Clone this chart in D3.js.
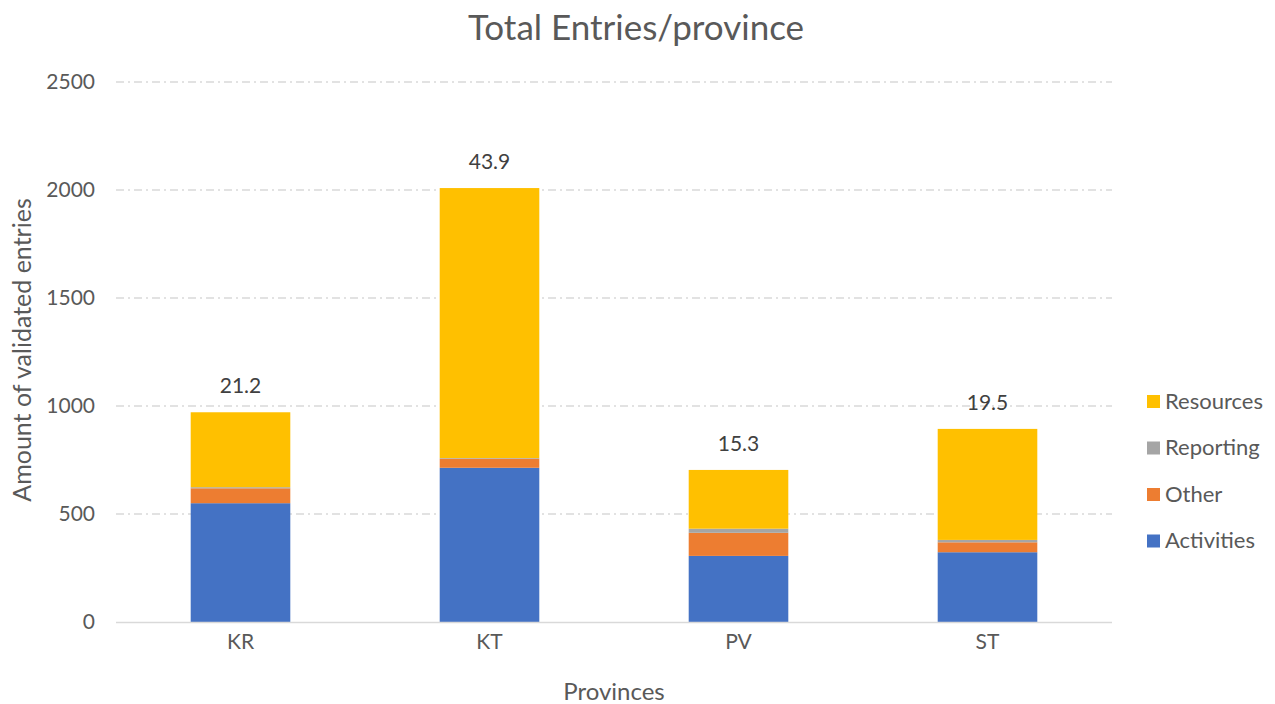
<!DOCTYPE html>
<meta charset="utf-8">
<style>
body { margin: 0; background: #fff; }
svg { font-family: Lato, "Noto Sans", sans-serif; }
.grid line { stroke: #d9d9d9; stroke-width: 1.3; stroke-dasharray: 8 4 2 4; }
.tick text { fill: #595959; font-size: 21px; font-family: Lato, "Noto Sans", sans-serif; }
</style>
<svg id="chart" width="1275" height="704"></svg>
<script src="https://cdnjs.cloudflare.com/ajax/libs/d3/7.8.5/d3.min.js"></script>
<script>
// data
var provinces = ["KR", "KT", "PV", "ST"];
var activities = [550, 714, 306, 323];
var other = [69, 42, 107, 46];
var reporting = [5, 3, 19, 11];
var resources = [347, 1250, 272, 514];
var shareLabels = ["21.2", "43.9", "15.3", "19.5"];
var seriesNames = ["Activities", "Other", "Reporting", "Resources"];
var seriesColors = ["#4472C4", "#ED7D31", "#A5A5A5", "#FFC000"];
var yTicks = [0, 500, 1000, 1500, 2000, 2500];

var rows = provinces.map(function (p, i) {
  return { province: p, Activities: activities[i], Other: other[i], Reporting: reporting[i], Resources: resources[i] };
});

var svg = d3.select("#chart");
var plotLeft = 116, plotRight = 1112, plotTop = 82, plotBottom = 622;

var x = d3.scaleBand().domain(provinces).range([plotLeft, plotRight]).paddingInner(0.6).paddingOuter(0.3);
var y = d3.scaleLinear().domain([0, 2500]).range([plotBottom, plotTop]);
var color = d3.scaleOrdinal().domain(seriesNames).range(seriesColors);

// gridlines
svg.append("g").attr("class", "grid")
  .selectAll("line").data(yTicks.slice(1)).enter().append("line")
  .attr("x1", plotLeft).attr("x2", plotRight)
  .attr("y1", function (d) { return y(d); }).attr("y2", function (d) { return y(d); });

// y axis labels
var yAxis = svg.append("g").attr("transform", "translate(" + (plotLeft - 21) + ",0)")
  .call(d3.axisLeft(y).tickValues(yTicks).tickFormat(d3.format("d")).tickSize(0).tickPadding(0));
yAxis.select(".domain").remove();

// stacked bars
var stacked = d3.stack().keys(seriesNames)(rows);
svg.append("g").selectAll("g").data(stacked).enter().append("g")
  .attr("fill", function (d) { return color(d.key); })
  .selectAll("rect").data(function (d) { return d; }).enter().append("rect")
  .attr("x", function (d) { return x(d.data.province); })
  .attr("width", x.bandwidth())
  .attr("y", function (d) { return y(d[1]); })
  .attr("height", function (d) { return y(d[0]) - y(d[1]); });

// baseline
svg.append("line").attr("x1", plotLeft).attr("x2", plotRight)
  .attr("y1", plotBottom + 0.5).attr("y2", plotBottom + 0.5)
  .attr("stroke", "#d9d9d9").attr("stroke-width", 1.3);

// x axis labels
var xAxis = svg.append("g").attr("transform", "translate(0," + plotBottom + ")")
  .call(d3.axisBottom(x).tickSize(0).tickPadding(12));
xAxis.select(".domain").remove();

// share labels above each bar
var topLayer = stacked[stacked.length - 1];
svg.append("g").selectAll("text").data(topLayer).enter().append("text")
  .attr("x", function (d) { return x(d.data.province) + x.bandwidth() / 2; })
  .attr("y", function (d) { return y(d[1]) - 19; })
  .attr("text-anchor", "middle")
  .attr("fill", "#404040").style("font-size", "21px")
  .text(function (d, i) { return shareLabels[i]; });

// title and axis titles
svg.append("text").attr("x", 636).attr("y", 40).attr("text-anchor", "middle")
  .attr("fill", "#595959").style("font-size", "35px").text("Total Entries/province");
svg.append("text").attr("x", 614).attr("y", 700).attr("text-anchor", "middle")
  .attr("fill", "#595959").style("font-size", "24px").text("Provinces");
svg.append("text").attr("transform", "translate(31,350) rotate(-90)").attr("text-anchor", "middle")
  .attr("fill", "#595959").style("font-size", "25px").text("Amount of validated entries");

// legend, reversed order
var legend = svg.append("g").selectAll("g").data(seriesNames.slice().reverse()).enter().append("g")
  .attr("transform", function (d, i) { return "translate(1147," + (401 + i * 46.5) + ")"; });
legend.append("rect").attr("x", 0).attr("y", -6).attr("width", 13).attr("height", 13)
  .attr("fill", function (d) { return color(d); });
legend.append("text").attr("x", 18).attr("y", 0).attr("dy", "0.35em")
  .attr("fill", "#595959").style("font-size", "22px").text(function (d) { return d; });
</script>
